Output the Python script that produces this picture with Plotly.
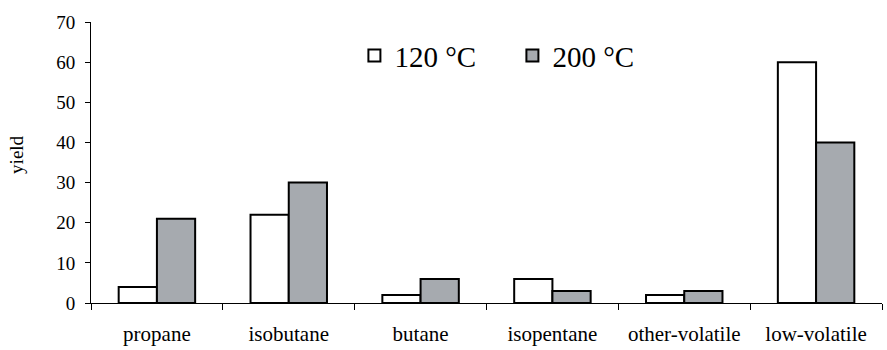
import plotly.graph_objects as go

categories = ["propane", "isobutane", "butane", "isopentane", "other-volatile", "low-volatile"]
series_names = ["120 °C", "200 °C"]
yield_120 = [4, 22, 2, 6, 2, 60]
yield_200 = [21, 30, 6, 3, 3, 40]
y_ticks = [0, 10, 20, 30, 40, 50, 60, 70]

FONT = "Liberation Serif, Times New Roman, serif"

fig = go.Figure()
fig.add_trace(go.Bar(x=categories, y=yield_120, name=series_names[0],
                     marker=dict(color="white", line=dict(color="black", width=2))))
fig.add_trace(go.Bar(x=categories, y=yield_200, name=series_names[1],
                     marker=dict(color="#a6aaaf", line=dict(color="black", width=2))))

fig.update_layout(
    width=887, height=350,
    margin=dict(l=91, r=5, t=22, b=47),
    paper_bgcolor="white", plot_bgcolor="white",
    barmode="group", bargap=0.42, bargroupgap=0,
    font=dict(family=FONT, color="black", size=18),
    showlegend=True,
    legend=dict(orientation="h", x=0.333, y=0.88, xanchor="left", yanchor="middle",
                entrywidth=113, entrywidthmode="pixels",
                font=dict(size=29, family=FONT), bgcolor="rgba(0,0,0,0)"),
    xaxis=dict(type="category", range=[-0.5, 5.5], showline=True, linecolor="black", linewidth=1,
               ticks="outside", tickson="boundaries", ticklen=6, tickcolor="black",
               showgrid=False, tickfont=dict(size=21), ticklabelstandoff=12),
    yaxis=dict(range=[0, 70], tickvals=y_ticks, showline=True, linecolor="black", linewidth=1,
               ticks="outside", ticklen=5, tickcolor="black", showgrid=False, zeroline=False,
               tickfont=dict(size=19), ticklabelstandoff=6),
    annotations=[dict(text="yield", textangle=-90, xref="paper", yref="paper",
                      x=-0.0936, y=0.527, xanchor="center", yanchor="middle",
                      showarrow=False, font=dict(size=19, family=FONT))],
)
fig.write_html("out.html", config={"displayModeBar": False},
               post_script="document.body.style.margin='0';")
